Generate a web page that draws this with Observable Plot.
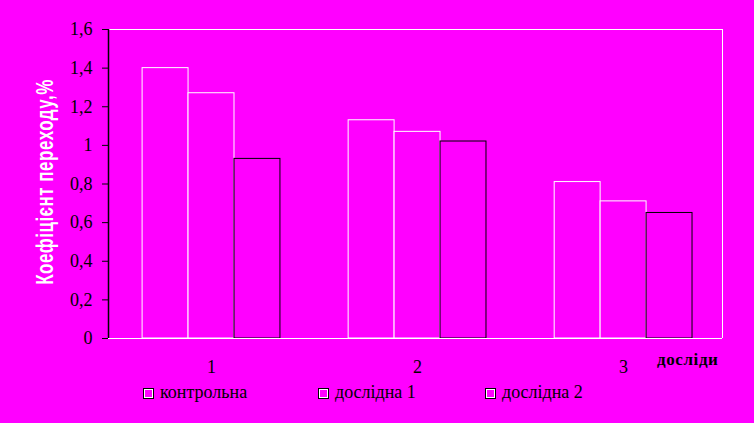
<!DOCTYPE html>
<html>
<head>
<meta charset="utf-8">
<script src="https://cdn.jsdelivr.net/npm/d3@7"></script>
<script src="https://cdn.jsdelivr.net/npm/@observablehq/plot@0.6"></script>
<style>
  html, body { margin: 0; padding: 0; background: #ff00ff; }
  #wrap { position: relative; width: 754px; height: 423px; background: #ff00ff; overflow: hidden; }
  #ylabel { position: absolute; left: 46px; top: 182px; white-space: nowrap;
    font: bold 17px "Liberation Sans", Arial, sans-serif; color: white; letter-spacing: 0.5px;
    transform: translate(-50%, -50%) rotate(-90deg) scale(1, 1.4); }
  #xlabel { position: absolute; left: 657px; top: 350px; white-space: nowrap; letter-spacing: 0.6px;
    font: bold 17px "Liberation Serif", "Times New Roman", serif; color: black; }
  #legend { position: absolute; top: 382px; left: 0; width: 754px; height: 22px;
    font: 18px "Liberation Serif", "Times New Roman", serif; color: black; }
  .item { position: absolute; top: 0; white-space: nowrap; }
  .sw { display: inline-block; width: 9px; height: 9px; border: 1px solid black; background: #ff00ff;
    box-shadow: inset 0 0 0 1px white; margin-right: 6px; vertical-align: -1px; }
</style>
</head>
<body>
<div id="wrap">
  <div id="chart"></div>
  <div id="ylabel"></div>
  <div id="xlabel"></div>
  <div id="legend"></div>
</div>
<script>
const groups = [1, 2, 3];
const seriesNames = ["контрольна", "дослідна 1", "дослідна 2"];
const control = [1.40, 1.13, 0.81];
const exp1 = [1.27, 1.07, 0.71];
const exp2 = [0.93, 1.02, 0.65];
const yTicks = [0, 0.2, 0.4, 0.6, 0.8, 1, 1.2, 1.4, 1.6];
const xTicks = [1, 2, 3];
const yLabel = "Коефіцієнт переходу,%";
const xLabel = "досліди";

const seriesValues = [control, exp1, exp2];
const seriesStroke = ["white", "white", "black"];
const barW = 0.223;

const data = groups.flatMap((g, i) => seriesValues.map((vals, s) => ({group: g, s, value: vals[i]})));

const bars = seriesValues.map((_, s) => Plot.rectY(data.filter(d => d.s === s), {
  x1: d => d.group + (d.s - 1.5) * barW,
  x2: d => d.group + (d.s - 0.5) * barW,
  y1: 0,
  y2: "value",
  fill: "#ff00ff",
  stroke: seriesStroke[s],
  strokeWidth: 1
}));

const chart = Plot.plot({
  width: 754,
  height: 423,
  marginLeft: 108,
  marginRight: 32,
  marginTop: 29,
  marginBottom: 85,
  style: {background: "transparent", color: "black", fontFamily: "'Liberation Serif', 'Times New Roman', serif", fontSize: "18px"},
  x: {domain: [0.5, 3.48]},
  y: {domain: [0, 1.6]},
  marks: [
    ...bars,
    Plot.ruleY([0, 1.6], {stroke: "white", strokeWidth: 1}),
    Plot.ruleX([3.48], {stroke: "white", strokeWidth: 1}),
    Plot.ruleX([0.5], {stroke: "black", strokeWidth: 1.5}),
    Plot.axisY({ticks: yTicks, tickFormat: d => String(d).replace(".", ","), tickSize: 6, tickPadding: 10, label: null, stroke: "black", fill: "black", fontSize: 18}),
    Plot.axisX({ticks: xTicks, tickFormat: d => String(d), tickSize: 0, tickPadding: 22, label: null, fill: "black", fontSize: 18})
  ]
});
document.getElementById("chart").appendChild(chart);
document.getElementById("ylabel").textContent = yLabel;
document.getElementById("xlabel").textContent = xLabel;

const legendX = [143, 318, 485];
const legend = document.getElementById("legend");
seriesNames.forEach((name, i) => {
  const it = document.createElement("div");
  it.className = "item";
  it.style.left = legendX[i] + "px";
  const sw = document.createElement("span");
  sw.className = "sw";
  it.appendChild(sw);
  it.appendChild(document.createTextNode(name));
  legend.appendChild(it);
});
</script>
</body>
</html>
